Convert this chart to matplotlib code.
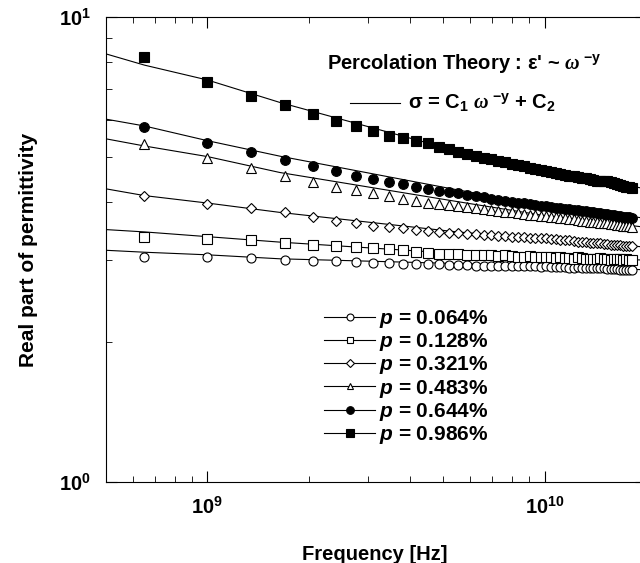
import numpy as np
import matplotlib
matplotlib.use("Agg")
import matplotlib.pyplot as plt
from matplotlib.lines import Line2D

plt.rcParams['font.family'] = ['Liberation Sans', 'DejaVu Sans']
plt.rcParams['font.weight'] = 'bold'
plt.rcParams['mathtext.fontset'] = 'custom'
plt.rcParams['mathtext.rm'] = 'Liberation Sans:bold'
plt.rcParams['mathtext.bf'] = 'Liberation Sans:bold'
plt.rcParams['mathtext.it'] = 'Liberation Serif:italic'
plt.rcParams['mathtext.sf'] = 'Liberation Sans:bold:italic'

# Frequencies in GHz
freq_ghz = [0.65, 1.00, 1.35, 1.70, 2.05, 2.40, 2.75, 3.10, 3.45, 3.80,
            4.15, 4.50, 4.85, 5.20, 5.55, 5.90, 6.25, 6.60, 6.95, 7.30,
            7.65, 8.00, 8.35, 8.70, 9.05, 9.40, 9.75, 10.10, 10.45, 10.80,
            11.15, 11.50, 11.85, 12.20, 12.55, 12.90, 13.25, 13.60, 13.95, 14.30,
            14.65, 15.00, 15.35, 15.70, 16.05, 16.40, 16.75, 17.10, 17.45, 17.80,
            18.15]

eps_p0064 = [3.04, 3.04, 3.03, 3.00, 2.99, 2.98, 2.97, 2.96, 2.96, 2.95,
             2.95, 2.94, 2.94, 2.93, 2.93, 2.93, 2.92, 2.92, 2.92, 2.92,
             2.91, 2.91, 2.91, 2.91, 2.91, 2.91, 2.90, 2.91, 2.90, 2.90,
             2.90, 2.90, 2.89, 2.89, 2.90, 2.89, 2.89, 2.89, 2.88, 2.88,
             2.88, 2.88, 2.87, 2.87, 2.87, 2.87, 2.86, 2.86, 2.86, 2.86,
             2.86]
eps_p0128 = [3.37, 3.33, 3.31, 3.26, 3.23, 3.22, 3.20, 3.18, 3.17, 3.15,
             3.13, 3.11, 3.09, 3.09, 3.09, 3.08, 3.08, 3.07, 3.07, 3.06,
             3.07, 3.06, 3.05, 3.05, 3.06, 3.05, 3.04, 3.04, 3.04, 3.03,
             3.04, 3.03, 3.03, 3.02, 3.04, 3.03, 3.02, 3.02, 3.01, 3.02,
             3.03, 3.02, 3.01, 3.00, 3.01, 3.02, 3.01, 3.00, 3.01, 3.00,
             3.00]
eps_p0321 = [4.13, 3.96, 3.88, 3.80, 3.72, 3.65, 3.60, 3.56, 3.54, 3.51,
             3.49, 3.47, 3.45, 3.44, 3.43, 3.42, 3.41, 3.40, 3.39, 3.38,
             3.38, 3.37, 3.36, 3.36, 3.35, 3.35, 3.34, 3.34, 3.33, 3.33,
             3.32, 3.31, 3.31, 3.30, 3.29, 3.29, 3.28, 3.27, 3.27, 3.26,
             3.26, 3.25, 3.25, 3.24, 3.24, 3.23, 3.23, 3.22, 3.22, 3.21,
             3.21]
eps_p0483 = [5.33, 4.97, 4.74, 4.55, 4.42, 4.32, 4.25, 4.18, 4.12, 4.07,
             4.02, 3.99, 3.96, 3.94, 3.92, 3.90, 3.88, 3.86, 3.84, 3.83,
             3.81, 3.80, 3.78, 3.77, 3.76, 3.75, 3.74, 3.73, 3.72, 3.71,
             3.70, 3.69, 3.68, 3.67, 3.66, 3.65, 3.64, 3.63, 3.63, 3.62,
             3.61, 3.60, 3.60, 3.59, 3.58, 3.57, 3.57, 3.56, 3.55, 3.55,
             3.54]
eps_p0644 = [5.81, 5.37, 5.13, 4.93, 4.78, 4.66, 4.56, 4.48, 4.42, 4.37,
             4.32, 4.27, 4.23, 4.20, 4.18, 4.15, 4.12, 4.10, 4.07, 4.05,
             4.03, 4.01, 3.99, 3.98, 3.96, 3.95, 3.93, 3.92, 3.91, 3.89,
             3.88, 3.87, 3.86, 3.85, 3.84, 3.83, 3.82, 3.81, 3.80, 3.79,
             3.78, 3.77, 3.77, 3.76, 3.75, 3.74, 3.73, 3.72, 3.72, 3.71,
             3.70]
eps_p0986 = [8.19, 7.24, 6.77, 6.47, 6.19, 5.98, 5.83, 5.68, 5.56, 5.49,
             5.42, 5.36, 5.26, 5.20, 5.13, 5.08, 5.03, 4.98, 4.94, 4.90,
             4.87, 4.83, 4.80, 4.77, 4.74, 4.71, 4.69, 4.66, 4.64, 4.62,
             4.60, 4.58, 4.56, 4.55, 4.53, 4.51, 4.50, 4.48, 4.46, 4.45,
             4.43, 4.43, 4.44, 4.42, 4.39, 4.37, 4.35, 4.33, 4.31, 4.30,
             4.28]

# Fitted curves (sigma = C1 w^-y + C2), read at anchor frequencies (Hz)
fit_freq = [5.0e8, 6.5e8, 1.0e9, 1.64e9, 5.5e9, 1.0e10, 2.0e10]
fit_p0064 = [3.15, 3.12, 3.08, 3.02, 2.95, 2.91, 2.86]
fit_p0128 = [3.49, 3.45, 3.37, 3.28, 3.10, 3.05, 3.00]
fit_p0321 = [4.27, 4.13, 3.98, 3.80, 3.45, 3.33, 3.20]
fit_p0483 = [5.47, 5.28, 5.01, 4.63, 4.01, 3.74, 3.53]
fit_p0644 = [6.03, 5.83, 5.42, 5.02, 4.25, 3.93, 3.69]
fit_p0986 = [8.33, 7.88, 7.32, 6.55, 5.15, 4.68, 4.27]

labels = ['0.064%', '0.128%', '0.321%', '0.483%', '0.644%', '0.986%']

series = [eps_p0064, eps_p0128, eps_p0321, eps_p0483, eps_p0644, eps_p0986]
fits = [fit_p0064, fit_p0128, fit_p0321, fit_p0483, fit_p0644, fit_p0986]
markers = ['o', 's', 'D', '^', 'o', 's']
fills = ['white', 'white', 'white', 'white', 'black', 'black']
msizes = [6.5, 6.5, 5.5, 6.5, 7.0, 7.2]
leg_msizes = [5.0, 5.0, 4.0, 5.0, 5.5, 5.5]

W, H = 640, 563
fig = plt.figure(figsize=(W / 100, H / 100), dpi=100)
ax = fig.add_axes([106 / W, 1 - 482 / H, (646 - 106) / W, (482 - 17) / H])

freq_hz = np.array(freq_ghz) * 1e9
for y, fy, m, fc, ms in zip(series, fits, markers, fills, msizes):
    ax.plot(fit_freq, fy, '-', color='black', lw=0.8, zorder=2)
    ax.plot(freq_hz, y, linestyle='none', marker=m, ms=ms, mfc=fc,
            mec='black', mew=0.8, zorder=3)

ax.set_xscale('log')
ax.set_yscale('log')
ax.set_xlim(5e8, 2e10)
ax.set_ylim(1, 10)
ax.yaxis.set_major_locator(matplotlib.ticker.LogLocator(base=10, numticks=5))

ax.tick_params(which='both', direction='in', top=True, right=True)
ax.tick_params(which='major', length=8, width=0.8, labelsize=14.5)
ax.tick_params(axis='x', which='major', pad=10)
ax.tick_params(axis='y', which='major', pad=11)
ax.tick_params(which='minor', length=4, width=0.6, labelleft=False, labelbottom=False)
for s in ax.spines.values():
    s.set_linewidth(0.8)

ax.set_xlabel('Frequency [Hz]', fontsize=14.5, fontweight='bold')
ax.set_ylabel('Real part of permittivity', fontsize=15, fontweight='bold')
ax.xaxis.set_label_coords((375 - 106) / 540, -(545 - 482) / 465)
ax.yaxis.set_label_coords(-(106 - 38) / 540, (482 - 250) / 465)

# Annotations
ax.text(0.409, 0.90, r"Percolation Theory : ε' ~ $\omega^{\ \mathrm{-y}}$",
        transform=ax.transAxes, fontsize=14.5, fontweight='bold',
        ha='left', va='center')
ax.plot([0.452, 0.544], [0.815, 0.815], transform=ax.transAxes, color='black', lw=0.8)
ax.text(0.56, 0.815, r"σ = C$_{1}$ $\omega^{\ \mathrm{-y}}$ + C$_{2}$",
        transform=ax.transAxes, fontsize=14.5, fontweight='bold',
        ha='left', va='center')

handles = [Line2D([0], [0], color='black', lw=0.8, marker=m, ms=ms, mfc=fc,
                  mec='black', mew=0.8)
           for m, fc, ms in zip(markers, fills, leg_msizes)]
leg_labels = [r"$\mathsf{p}$ = " + l for l in labels]
leg = ax.legend(handles, leg_labels, loc='upper left',
                bbox_to_anchor=((324 - 106) / 540, (482 - 308) / 465),
                frameon=False, fontsize=15, handlelength=2.45,
                handletextpad=0.2, labelspacing=0.06, borderpad=0,
                borderaxespad=0)
for t in leg.get_texts():
    t.set_fontweight('bold')

fig.savefig('out.png', dpi=100)
